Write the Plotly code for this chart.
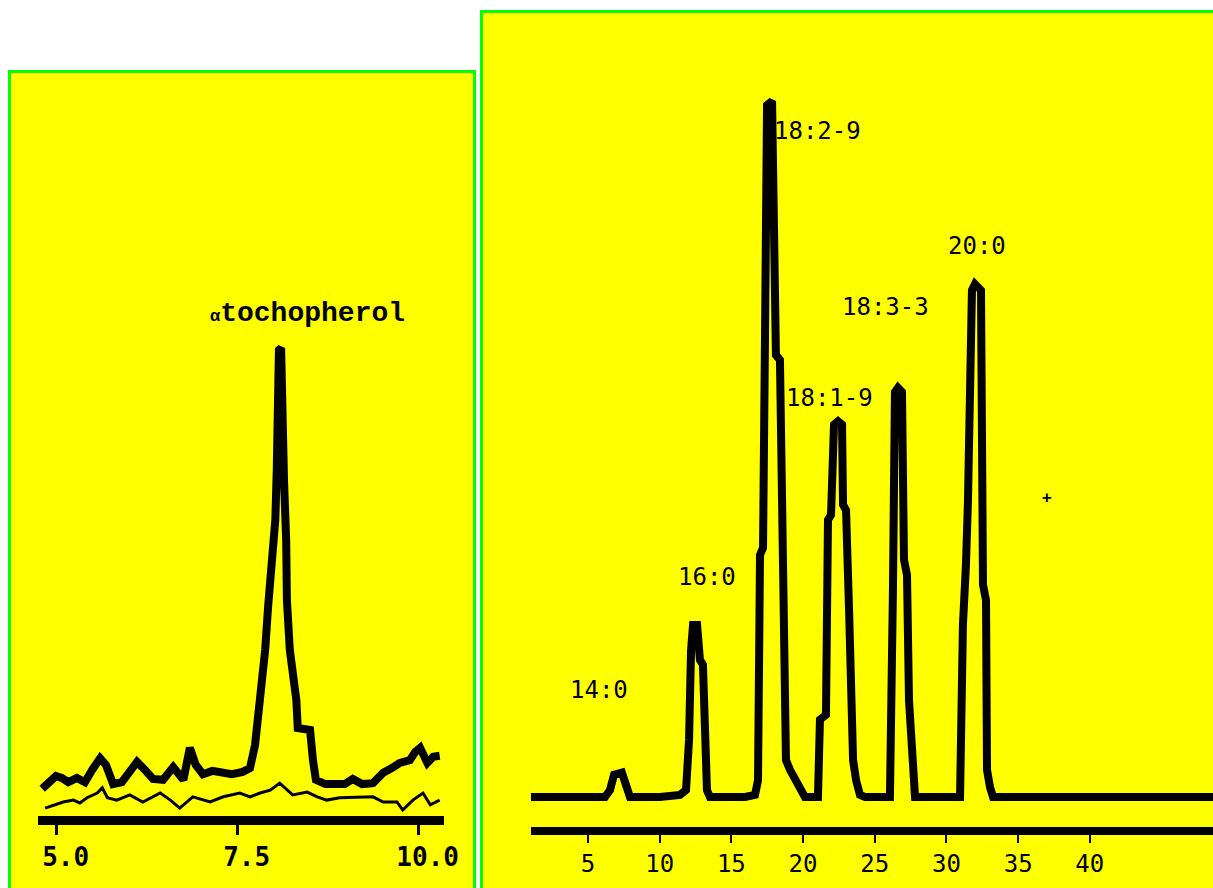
import plotly.graph_objects as go

# ---------------- Left panel: alpha-tocopherol (retention time, min) ----------------
toco_time_upper = [4.80, 4.91, 4.99, 5.07, 5.16, 5.28, 5.39, 5.49, 5.60, 5.68, 5.78, 5.90, 6.01, 6.11,
                   6.22, 6.33, 6.47, 6.61, 6.75, 6.84, 6.92, 7.02, 7.15, 7.26, 7.42, 7.57, 7.67, 7.74,
                   7.81, 7.88, 7.92, 7.97, 8.02, 8.04, 8.06, 8.07, 8.10, 8.11, 8.14, 8.17, 8.18, 8.22,
                   8.31, 8.33, 8.50, 8.54, 8.58, 8.71, 8.98, 9.09, 9.22, 9.37, 9.51, 9.63, 9.74, 9.88,
                   9.95, 10.02, 10.12, 10.20, 10.29]
toco_signal_upper = [6.2, 8.1, 8.9, 8.5, 7.6, 8.5, 7.6, 10.2, 12.7, 11.3, 7.2, 7.6, 10.2, 11.9,
                     10.2, 8.3, 8.1, 10.8, 8.1, 14.9, 11.3, 9.3, 10.0, 9.8, 9.3, 9.8, 10.6, 15.5,
                     25.1, 35.7, 44.8, 53.3, 63.3, 73.9, 87.3, 99.4, 99.8, 88.8, 71.8, 59.0, 46.3, 35.7,
                     25.1, 19.1, 18.7, 12.3, 8.1, 7.2, 7.2, 8.3, 7.2, 7.4, 9.6, 10.6, 11.7, 12.3,
                     14.0, 14.9, 11.7, 13.0, 13.2]
toco_time_lower = [4.84, 4.98, 5.09, 5.23, 5.32, 5.42, 5.56, 5.63, 5.70, 5.83, 6.01, 6.19, 6.43, 6.57,
                   6.70, 6.88, 7.12, 7.30, 7.53, 7.67, 7.81, 7.95, 8.08, 8.26, 8.46, 8.60, 8.73, 8.91,
                   9.19, 9.37, 9.51, 9.70, 9.78, 9.92, 10.06, 10.16, 10.29]
toco_signal_lower = [2.1, 2.8, 3.4, 3.8, 3.2, 4.3, 5.3, 6.4, 4.3, 3.8, 4.9, 3.4, 5.3, 3.8,
                     2.1, 4.5, 3.4, 4.5, 5.3, 4.5, 5.3, 5.9, 7.4, 4.9, 5.5, 4.5, 3.8, 4.3,
                     4.5, 4.5, 3.4, 3.4, 1.7, 3.8, 5.3, 2.8, 3.8]
toco_ticks = [5.0, 7.5, 10.0]
toco_tick_labels = ["5.0", "7.5", "10.0"]
toco_label = "tochopherol"

# ---------------- Right panel: fatty acid methyl esters ----------------
fa_time = [1.03, 6.19, 6.54, 6.82, 7.37, 7.72, 7.93, 10.02, 11.42, 11.84, 12.05, 12.19, 12.33, 12.61,
           12.81, 13.02, 13.16, 13.30, 13.51, 15.95, 16.65, 16.86, 17.00, 17.21, 17.35, 17.49, 17.84,
           17.97, 18.11, 18.39, 18.53, 18.67, 18.81, 19.09, 19.44, 19.79, 20.13, 21.04, 21.18, 21.60,
           21.74, 21.95, 22.16, 22.44, 22.72, 22.79, 23.00, 23.21, 23.35, 23.49, 23.70, 23.97, 24.32,
           26.06, 26.27, 26.41, 26.62, 26.90, 27.04, 27.25, 27.39, 27.60, 27.81, 30.95, 31.15, 31.36,
           31.50, 31.78, 31.99, 32.41, 32.55, 32.76, 32.83, 33.04, 33.25, 48.59]
fa_signal = [0.0, 0.0, 1.0, 3.2, 3.5, 1.7, 0.0, 0.0, 0.3, 1.0, 8.2, 21.1, 24.7, 24.7,
             19.7, 19.0, 8.2, 1.0, 0.0, 0.0, 0.3, 2.4, 34.8, 35.8, 66.4, 99.4, 100.0,
             71.4, 63.5, 62.8, 34.1, 21.1, 5.3, 3.9, 2.4, 1.0, 0.0, 0.0, 11.1, 11.8,
             39.8, 40.5, 53.5, 54.0, 53.5, 42.0, 41.2, 26.9, 11.1, 5.3, 2.4, 0.3, 0.0,
             0.0, 29.7, 58.2, 58.8, 58.2, 34.1, 31.9, 13.9, 5.3, 0.0, 0.0, 24.7, 33.3,
             42.4, 72.8, 73.7, 72.8, 30.5, 28.3, 3.9, 1.4, 0.0, 0.0]
fa_ticks = [5, 10, 15, 20, 25, 30, 35, 40]
fa_tick_labels = ["5", "10", "15", "20", "25", "30", "35", "40"]
fa_peak_labels = ["14:0", "16:0", "18:2-9", "18:1-9", "18:3-3", "20:0"]
fa_label_time = [5.77, 13.28, 21.04, 21.87, 25.78, 32.13]
fa_label_signal = [15.4, 31.6, 95.7, 57.3, 70.4, 79.2]

W, H = 1213, 888
YELLOW = "#ffff00"
GREEN = "#00ff00"


def px(x):
    return x / W


def py(y):
    return 1 - y / H


fig = go.Figure()
fig.add_trace(go.Scatter(x=toco_time_lower, y=toco_signal_lower, mode="lines",
                         line=dict(color="black", width=3), xaxis="x", yaxis="y", hoverinfo="skip"))
fig.add_trace(go.Scatter(x=toco_time_upper, y=toco_signal_upper, mode="lines",
                         line=dict(color="black", width=8), xaxis="x", yaxis="y", hoverinfo="skip"))
fig.add_trace(go.Scatter(x=fa_time, y=fa_signal, mode="lines",
                         line=dict(color="black", width=8), xaxis="x2", yaxis="y2", hoverinfo="skip"))

shapes = [
    dict(type="rect", xref="paper", yref="paper", x0=px(9.5), x1=px(474.5), y0=-0.05, y1=py(71.5),
         fillcolor=YELLOW, line=dict(color=GREEN, width=3), layer="below"),
    dict(type="rect", xref="paper", yref="paper", x0=px(481.5), x1=1.05, y0=-0.05, y1=py(11.5),
         fillcolor=YELLOW, line=dict(color=GREEN, width=3), layer="below"),
]

annotations = [
    dict(x=8.47, y=107.2, xref="x", yref="y", showarrow=False,
         text="<span style='font-size:17px'>α</span>" + toco_label,
         font=dict(family="Liberation Mono", size=28, color="black", weight="bold")),
]
for lab, t, v in zip(fa_peak_labels, fa_label_time, fa_label_signal):
    annotations.append(dict(x=t, y=v, xref="x2", yref="y2", showarrow=False, text=lab,
                            font=dict(family="DejaVu Sans Mono", size=24, color="black")))
annotations.append(dict(x=37.0, y=43.1, xref="x2", yref="y2", showarrow=False, text="+",
                        font=dict(family="DejaVu Sans Mono", size=16, color="black", weight="bold")))

fig.update_layout(
    width=W, height=H, autosize=False,
    margin=dict(l=0, r=0, t=0, b=0, pad=0),
    paper_bgcolor="white", plot_bgcolor="rgba(0,0,0,0)",
    showlegend=False,
    shapes=shapes, annotations=annotations,
    xaxis=dict(domain=[px(38), px(444)], range=[4.742, 10.350], anchor="y",
               showline=True, linewidth=9, linecolor="black",
               ticks="outside", ticklen=10, tickwidth=3, tickcolor="black",
               tickvals=toco_ticks, ticktext=toco_tick_labels, ticklabelshift=9,
               tickfont=dict(family="DejaVu Sans Mono", size=26, color="black", weight="bold"),
               showgrid=False, zeroline=False, automargin=False),
    yaxis=dict(domain=[py(815.5), py(80)], range=[0.53, 156.7], anchor="x",
               visible=False, showgrid=False, zeroline=False, automargin=False),
    xaxis2=dict(domain=[px(531), 1.0], range=[1.029, 48.59], anchor="y2",
                showline=True, linewidth=8, linecolor="black",
                ticks="outside", ticklen=8, tickwidth=2, tickcolor="black",
                tickvals=fa_ticks, ticktext=fa_tick_labels,
                tickfont=dict(family="DejaVu Sans Mono", size=24, color="black"),
                showgrid=False, zeroline=False, automargin=False),
    yaxis2=dict(domain=[py(827), py(20)], range=[-4.31, 111.64], anchor="x2",
                visible=False, showgrid=False, zeroline=False, automargin=False),
)

fig.write_html(
    "out.html",
    config={"responsive": False, "displayModeBar": False},
    post_script=(
        "document.body.style.margin='0px';"
        "document.body.style.overflow='hidden';"
        "var gd=document.getElementById('{plot_id}');"
        "Plotly.relayout(gd,{width:%d,height:%d});" % (W, H)
    ),
)
